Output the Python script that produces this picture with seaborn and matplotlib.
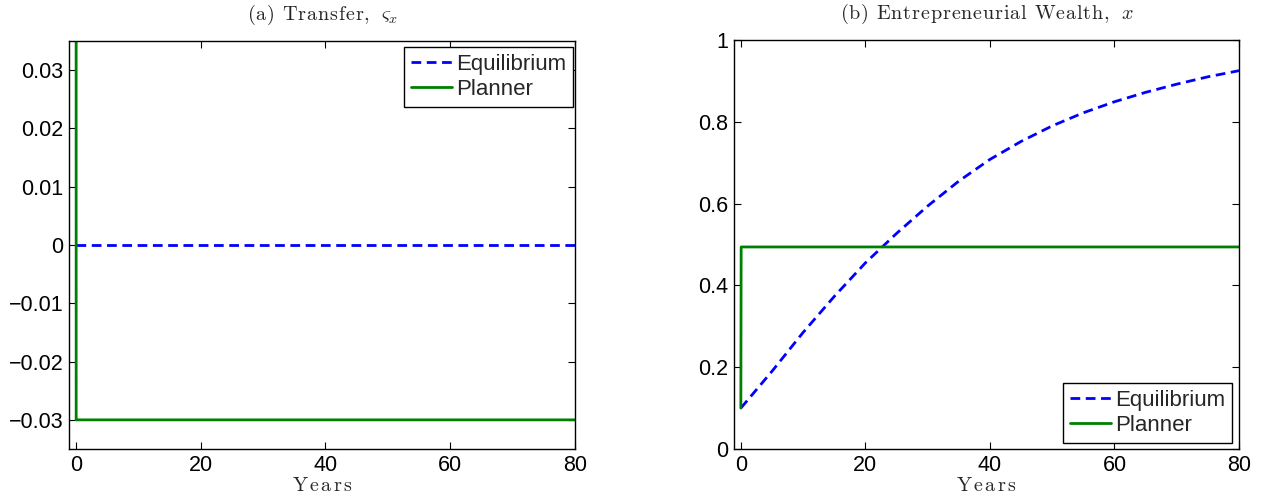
import numpy as np
import pandas as pd
import matplotlib
matplotlib.use("Agg")
import matplotlib.pyplot as plt
import seaborn as sns

# ---- data ----
years_eq = [0, 5, 10, 15, 20, 25, 30, 35, 40, 45, 50, 55, 60, 65, 70, 75, 80]
wealth_eq = [0.100, 0.190, 0.285, 0.373, 0.455, 0.527, 0.594, 0.655, 0.708,
             0.752, 0.790, 0.822, 0.849, 0.872, 0.892, 0.910, 0.925]
transfer_eq = [0.0] * len(years_eq)

years_pl = [0, 0.05, 80]
transfer_pl = [0.5, -0.030, -0.030]
wealth_pl = [0.100, 0.494, 0.494]

title_texts = ["(a) Transfer,", "(b) Entrepreneurial Wealth,"]
title_syms = [r"\varsigma_x", "x"]
xlabel_text = "Years"
series_names = ["Equilibrium", "Planner"]


def tracked(s, sp=0.13):
    parts = []
    for ch in s:
        parts.append(r"\ " if ch == " " else r"\mathrm{" + ch + "}")
    return (r"\hspace{%g}" % sp).join(parts)


sns.set_theme(style="ticks")
plt.rcParams["font.family"] = ["Liberation Sans", "DejaVu Sans"]
plt.rcParams["mathtext.fontset"] = "cm"

BLUE = (0, 0, 1)
GREEN = (0, 0.5, 0)

fig = plt.figure(figsize=(12.63, 5.0), dpi=100)
ax1 = fig.add_axes([69 / 1263, 51 / 500, 506 / 1263, 408 / 500])
ax2 = fig.add_axes([734 / 1263, 51 / 500, 505 / 1263, 409 / 500])


def draw(ax, y_eq, y_pl):
    sns.lineplot(x=years_eq, y=y_eq, ax=ax, color=BLUE, lw=2,
                 linestyle=(0, (3.5, 2.0)), label=series_names[0])
    sns.lineplot(x=years_pl, y=y_pl, ax=ax, color=GREEN, lw=2,
                 label=series_names[1])


draw(ax1, transfer_eq, transfer_pl)
draw(ax2, wealth_eq, wealth_pl)

ax1.set_xlim(-1.1, 80)
ax1.set_ylim(-0.035, 0.035)
ax1.set_yticks([-0.03, -0.02, -0.01, 0, 0.01, 0.02, 0.03])
ax1.set_yticklabels(["\u22120.03", "\u22120.02", "\u22120.01", "0", "0.01", "0.02", "0.03"])

ax2.set_xlim(-1.1, 80)
ax2.set_ylim(0, 1)
ax2.set_yticks([0, 0.2, 0.4, 0.6, 0.8, 1])
ax2.set_yticklabels(["0", "0.2", "0.4", "0.6", "0.8", "1"])

for ax, tt, sym in zip([ax1, ax2], title_texts, title_syms):
    ax.set_xticks([0, 20, 40, 60, 80])
    ax.set_xticklabels(["0", "20", "40", "60", "80"])
    ax.tick_params(direction="in", top=True, right=True, length=5, width=0.8,
                   labelsize=15.5, pad=4, colors="black")
    for s in ax.spines.values():
        s.set_visible(True)
        s.set_linewidth(1.0)
        s.set_color("black")
    ax.set_title("$" + tracked(tt, 0.05) + r"\ \ " + sym + "$", fontsize=14.5, pad=15)
    ax.set_xlabel("$" + tracked(xlabel_text) + "$", fontsize=14.5, labelpad=0)
    ax.set_ylabel("")
    ax.grid(False)

common = dict(fontsize=16, frameon=True, fancybox=False, edgecolor="black",
              borderpad=0.3, handlelength=1.85, handletextpad=0.2,
              labelspacing=0.2, borderaxespad=0)
leg1 = ax1.legend(loc="upper right", bbox_to_anchor=(0.996, 0.985), **common)
leg2 = ax2.legend(loc="lower right", bbox_to_anchor=(0.986, 0.015), **common)
for leg in (leg1, leg2):
    leg.get_frame().set_linewidth(1.0)
    leg.get_frame().set_alpha(1)

fig.savefig("out.png", dpi=100, facecolor="white")
